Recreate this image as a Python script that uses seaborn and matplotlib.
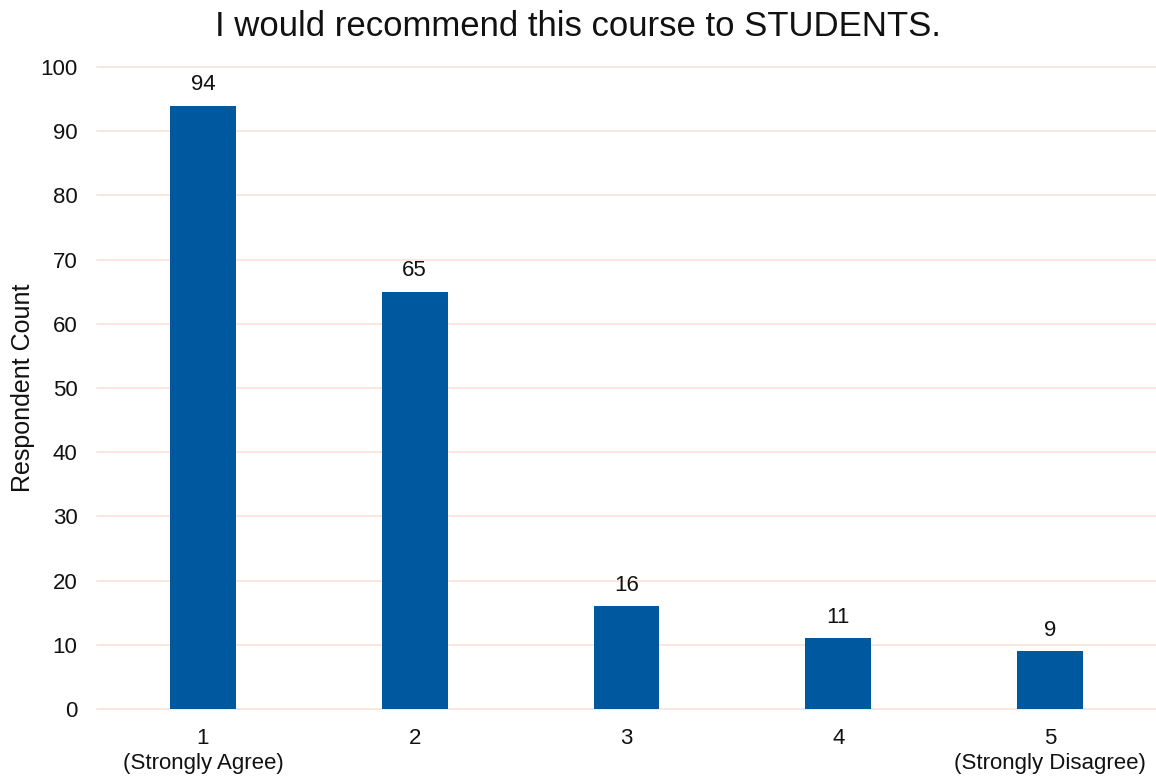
import matplotlib
matplotlib.use("Agg")
import matplotlib.pyplot as plt
import seaborn as sns
import pandas as pd

categories = ["1\n(Strongly Agree)", "2", "3", "4", "5\n(Strongly Disagree)"]
counts = [94, 65, 16, 11, 9]
y_ticks = [0, 10, 20, 30, 40, 50, 60, 70, 80, 90, 100]

sns.set_style("white")
plt.rcParams["font.family"] = ["Liberation Sans", "DejaVu Sans"]

df = pd.DataFrame({"response": categories, "count": counts})

fig = plt.figure(figsize=(11.56, 7.78), dpi=100)
ax = fig.add_axes([0.0839, 0.0887, 0.9161, 0.8252])

sns.barplot(data=df, x="response", y="count", color="#00589E",
            width=0.31, saturation=1, ax=ax, zorder=3, edgecolor="none")

ax.set_ylim(0, 100)
ax.set_xlim(-0.5, 4.5)
ax.set_yticks(y_ticks)
ax.grid(axis="y", color="#FBE3D8", linewidth=1.2, zorder=0)
for gl in ax.get_ygridlines():
    gl.set_clip_on(False)
ax.set_axisbelow(True)
for s in ax.spines.values():
    s.set_visible(False)
ax.tick_params(axis="both", length=0, labelsize=16, colors="#111111")
ax.tick_params(axis="x", pad=14)
ax.tick_params(axis="y", pad=14)

for i, v in enumerate(counts):
    ax.text(i, v + 1.6, str(v), ha="center", va="bottom", fontsize=16, color="#111111")

ax.set_xlabel("")
ax.set_ylabel("Respondent Count", fontsize=18, color="#111111", labelpad=4)
fig.text(0.5, 0.966, "I would recommend this course to STUDENTS.",
         ha="center", va="center", fontsize=25, color="#111111")

fig.savefig("out.png", dpi=100)
